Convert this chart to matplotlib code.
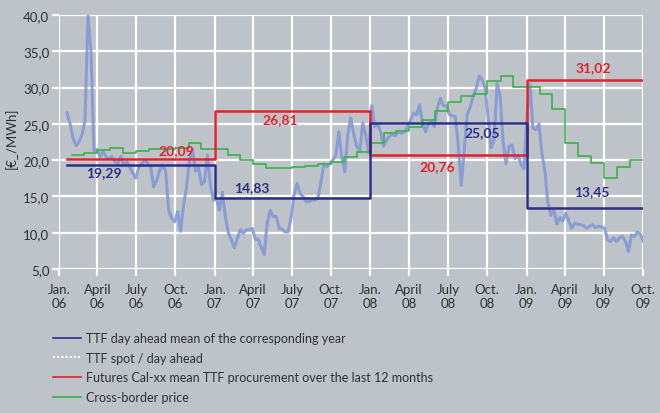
import matplotlib
matplotlib.use("Agg")
import matplotlib.pyplot as plt
from matplotlib.lines import Line2D
import pandas as pd

plt.rcParams['font.family'] = ['Lato', 'DejaVu Sans']

# yearly means: TTF day ahead (blue) and Futures Cal-xx procurement (red)
year_starts = ["2006-01-20", "2007-01-01", "2008-01-01", "2009-01-01"]
period_end = "2009-10-01"
ttf_mean = [19.29, 14.83, 25.05, 13.45]
futures_mean = [20.09, 26.81, 20.76, 31.02]

# cross-border price, monthly steps Feb 2006 - Sep 2009
cross_border_start = "2006-02-01"
cross_border = [
    20.73, 21.0, 21.4, 21.7, 21.05, 21.3, 21.6, 21.6, 21.7, 22.3, 21.6,
    21.6, 20.75, 20.05, 19.45, 18.9, 18.9, 19.1, 19.15, 19.4, 19.8, 20.5, 21.1,
    22.35, 23.7, 24.0, 24.55, 25.5, 26.75, 28.0, 28.8, 29.1, 30.85, 31.55, 30.1,
    30.05, 29.1, 27.0, 22.35, 20.55, 19.6, 17.6, 19.0, 20.05,
]

spot_start = "2006-01-20"
spot = [
    26.5, 25.0, 23.0, 22.0, 22.5, 23.5, 25.5, 40.0, 35.0, 21.2,
    21.5, 20.5, 21.2, 20.5, 20.2, 20.5, 19.8, 19.5, 20.5, 19.3,
    19.8, 19.0, 18.2, 17.5, 19.0, 19.5, 20.0, 19.6, 19.0, 16.3,
    17.2, 18.6, 19.3, 18.5, 13.1, 12.0, 11.5, 12.9, 10.2, 13.8,
    16.3, 20.0, 21.5, 18.5, 19.0, 16.6, 17.0, 20.7, 16.5, 14.5,
    14.7, 13.1, 15.6, 12.2, 10.0, 9.0, 7.9, 9.2, 10.4, 9.9,
    10.4, 10.4, 10.6, 9.1, 9.1, 8.0, 7.0, 11.3, 13.1, 12.2,
    12.3, 10.6, 10.5, 10.1, 10.1, 12.0, 15.2, 16.8, 15.4, 15.0,
    14.3, 14.3, 14.5, 14.5, 14.8, 17.0, 19.5, 19.1, 19.5, 20.0,
    20.7, 23.9, 20.3, 18.4, 23.5, 25.8, 23.5, 21.9, 21.2, 25.1,
    23.5, 21.0, 27.5, 24.6, 24.9, 23.9, 21.9, 22.8, 23.3, 23.5,
    23.4, 23.9, 23.7, 23.9, 24.6, 25.5, 26.5, 26.2, 27.6, 25.2,
    23.9, 25.0, 25.3, 24.6, 27.2, 28.5, 27.5, 27.5, 26.3, 26.1,
    26.0, 22.0, 16.5, 21.5, 26.3, 27.3, 28.8, 29.9, 31.6, 31.1,
    29.9, 25.8, 21.7, 22.8, 30.6, 28.8, 22.6, 19.5, 21.9, 22.1,
    20.2, 20.7, 19.4, 18.8, 26.2, 30.5, 24.4, 24.2, 25.0, 21.0,
    18.5, 14.1, 12.4, 13.2, 11.2, 12.1, 11.6, 12.7, 11.6, 10.6,
    11.3, 11.2, 11.1, 11.0, 10.6, 10.9, 11.1, 10.7, 10.9, 10.8,
    10.6, 9.0, 8.8, 9.3, 8.8, 9.3, 9.5, 8.8, 7.4, 9.7,
    9.5, 10.1, 9.8, 8.8,
]

xtick_dates = pd.date_range("2006-01-01", "2009-10-01", freq="QS")
xtick_labels = []
for d in xtick_dates:
    m = {1: "Jan.", 4: "April", 7: "July", 10: "Oct."}[d.month]
    xtick_labels.append(m + "\n" + d.strftime("%y"))
ytick_values = [5, 10, 15, 20, 25, 30, 35, 40]
ytick_labels = ["5,0", "10,0", "15,0", "20,0", "25,0", "30,0", "35,0", "40,0"]

legend_labels = [
    "TTF day ahead mean of the corresponding year",
    "TTF spot / day ahead",
    "Futures Cal-xx mean TTF procurement over the last 12 months",
    "Cross-border price",
]

bg = "#bdc3c8"
navy = "#2b2e85"
red = "#e5202b"
green = "#3bb24b"
spot_col = "#8499d6"
txt = "#303030"

fig = plt.figure(figsize=(6.6, 4.14), dpi=100, facecolor=bg)
ax = fig.add_axes([59 / 660, 1 - 270 / 414, 584 / 660, 254 / 414])
ax.set_facecolor(bg)

spot_dates = pd.date_range(spot_start, periods=len(spot), freq="7D")
ax.plot(spot_dates, spot, color=spot_col, lw=2.2, alpha=0.9, zorder=2)

cb_dates = list(pd.date_range(cross_border_start, periods=len(cross_border), freq="MS"))
cb_dates.append(pd.Timestamp(period_end))
ax.step(cb_dates, cross_border + [cross_border[-1]], where="post",
        color=green, lw=1.2, zorder=3)

mean_dates = [pd.Timestamp(d) for d in year_starts + [period_end]]
ax.step(mean_dates, futures_mean + [futures_mean[-1]], where="post",
        color=red, lw=1.8, zorder=4)
ax.step(mean_dates, ttf_mean + [ttf_mean[-1]], where="post",
        color=navy, lw=1.8, zorder=5)

# value labels
label_pos_ttf = [("2006-04-17", 18.4), ("2007-03-28", 16.3),
                 ("2008-09-20", 23.9), ("2009-06-04", 15.8)]
label_pos_fut = [("2006-10-04", 21.4), ("2007-06-04", 25.7),
                 ("2008-06-06", 19.2), ("2009-06-06", 32.8)]
for (d, y), v in zip(label_pos_ttf, ttf_mean):
    ax.text(pd.Timestamp(d), y, f"{v:.2f}".replace(".", ","), color=navy,
            fontsize=10, fontweight="bold", ha="center", va="center", zorder=6)
for (d, y), v in zip(label_pos_fut, futures_mean):
    ax.text(pd.Timestamp(d), y, f"{v:.2f}".replace(".", ","), color=red,
            fontsize=10, fontweight="bold", ha="center", va="center", zorder=6)

ax.set_xlim(pd.Timestamp("2006-01-01"), pd.Timestamp(period_end))
ax.set_ylim(5, 40)
ax.set_xticks(xtick_dates)
ax.set_xticklabels(xtick_labels, linespacing=1.25)
ax.set_yticks(ytick_values)
ax.set_yticklabels(ytick_labels)
ax.grid(color="white", lw=1.6, zorder=0)
ax.set_axisbelow(True)
for s in ax.spines.values():
    s.set_visible(False)
ax.tick_params(axis="both", colors="white", length=5, width=1.6,
               labelcolor=txt, labelsize=9.5)
ax.tick_params(axis="x", pad=5)
ax.tick_params(axis="y", pad=2)
ax.set_ylabel("[€_/MWh]", color=txt, fontsize=9.5)
ax.yaxis.set_label_coords(-0.07, 0.52)

handles = [
    Line2D([], [], color=navy, lw=1.2),
    Line2D([], [], color="white", lw=1.5, ls=(0, (1, 1))),
    Line2D([], [], color=red, lw=1.2),
    Line2D([], [], color=green, lw=1.2),
]
leg = fig.legend(handles, legend_labels, loc="upper left",
                 bbox_to_anchor=(53 / 660, 1 - 333 / 414), frameon=False,
                 fontsize=9, handlelength=2.2, handletextpad=0.45,
                 labelspacing=0.62, borderpad=0, borderaxespad=0)
for t in leg.get_texts():
    t.set_color(txt)

fig.savefig("out.png", dpi=100, facecolor=bg)
